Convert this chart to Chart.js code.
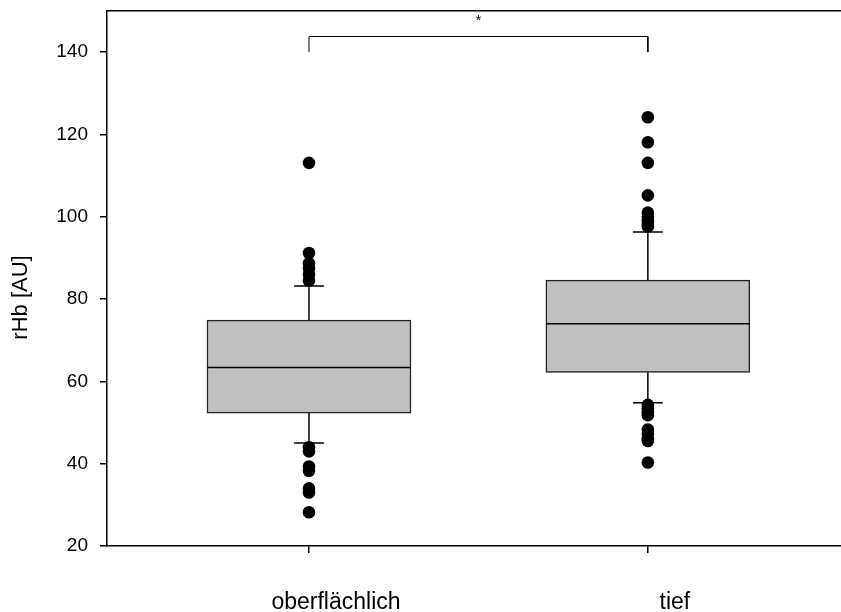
<!DOCTYPE html>
<html>
<head>
<meta charset="utf-8">
<script src="https://cdn.jsdelivr.net/npm/chart.js@4.4.1/dist/chart.umd.min.js"></script>
<style>
  html, body { margin: 0; padding: 0; background: #fff; overflow: hidden; width: 841px; height: 612px; }
  #c { display: block; }
</style>
</head>
<body>
<canvas id="c" width="848" height="612"></canvas>
<script>
// Box plot summary per group (rHb in AU)
const categories = ['oberflächlich', 'tief'];
const q1 = [52.3, 62.2];
const median = [63.4, 74.0];
const q3 = [74.9, 84.6];
const whiskerLow = [45.0, 54.8];
const whiskerHigh = [83.2, 96.3];
const outliersOberflaechlich = [113.1, 91.2, 88.7, 87.5, 86.0, 84.5, 44.0, 43.0, 39.3, 38.3, 34.0, 33.0, 28.2];
const outliersTief = [124.2, 118.1, 113.1, 105.2, 101.0, 100.0, 99.0, 98.0, 97.6, 54.3, 53.5, 52.5, 51.8, 48.3, 47.3, 46.0, 45.5, 40.3];
const yTicks = [20, 40, 60, 80, 100, 120, 140];
const yTitle = 'rHb [AU]';
// significance bracket between the two groups
const bracketBase = 140;
const bracketTop = 143.8;
const significanceLabel = '*';

const groupPos = categories.map((_, i) => i + 1);
const BOX_HALF = 0.30;    // half box width in x units
const CAP_HALF = 0.044;   // half whisker-cap width in x units
const X_MIN = 0.404, X_MAX = 2.572;

const gap = (x) => ({ x: x, y: null });

const boxData = groupPos.map((x, i) => ({ x: x, y: [q1[i], q3[i]] }));

const medianData = [];
const whiskerData = [];
const capData = [];
groupPos.forEach((x, i) => {
  medianData.push({ x: x - BOX_HALF, y: median[i] }, { x: x + BOX_HALF, y: median[i] }, gap(x));
  whiskerData.push({ x: x, y: q3[i] }, { x: x, y: whiskerHigh[i] }, gap(x));
  whiskerData.push({ x: x, y: q1[i] }, { x: x, y: whiskerLow[i] }, gap(x));
  capData.push({ x: x - CAP_HALF, y: whiskerHigh[i] }, { x: x + CAP_HALF, y: whiskerHigh[i] }, gap(x));
  capData.push({ x: x - CAP_HALF, y: whiskerLow[i] }, { x: x + CAP_HALF, y: whiskerLow[i] }, gap(x));
});

const outlierData = [
  ...outliersOberflaechlich.map(v => ({ x: groupPos[0], y: v })),
  ...outliersTief.map(v => ({ x: groupPos[1], y: v }))
];

const bracketData = [
  { x: groupPos[0], y: bracketBase }, { x: groupPos[0], y: bracketTop },
  { x: groupPos[1], y: bracketTop }, { x: groupPos[1], y: bracketBase }
];

const FONT = 'Liberation Sans, Arial, sans-serif';

const segLine = (data, width, order) => ({
  type: 'line', data: data, borderColor: '#000', borderWidth: width,
  pointRadius: 0, pointHoverRadius: 0, fill: false, spanGaps: false, tension: 0, order: order
});

// fixed axis sizes, no extra label overhang padding
const fixSize = (prop, size) => (s) => {
  s[prop] = size;
  s.paddingTop = 0; s.paddingBottom = 0; s.paddingLeft = 0; s.paddingRight = 0;
};

// significance marker above the bracket and the rotated y-axis title
const textPlugin = {
  id: 'extraText',
  afterDatasetsDraw(chart) {
    const { ctx, scales, chartArea } = chart;
    ctx.save();
    ctx.fillStyle = '#000';
    ctx.textAlign = 'center';
    ctx.textBaseline = 'middle';
    ctx.font = '15px ' + FONT;
    ctx.fillText(significanceLabel,
      scales.x.getPixelForValue((groupPos[0] + groupPos[1]) / 2),
      scales.y.getPixelForValue(147.6));
    ctx.translate(21, (chartArea.top + chartArea.bottom) / 2 + 19);
    ctx.rotate(-Math.PI / 2);
    ctx.font = '22px ' + FONT;
    ctx.fillText(yTitle, 0, 0);
    ctx.restore();
  }
};

new Chart(document.getElementById('c'), {
  type: 'bar',
  data: {
    datasets: [
      {
        type: 'bar', data: boxData, backgroundColor: '#c0c0c0', borderColor: '#222',
        borderWidth: 1.5, borderSkipped: false, barThickness: 204, order: 5
      },
      segLine(whiskerData, 1.5, 2),
      segLine(capData, 1.5, 2),
      segLine(medianData, 1.5, 1),
      segLine(bracketData, 1, 1),
      {
        type: 'scatter', data: outlierData, backgroundColor: '#000', borderColor: '#000',
        pointRadius: 6.3, pointHoverRadius: 6.3, borderWidth: 0, order: 0
      }
    ]
  },
  options: {
    responsive: false,
    animation: false,
    events: [],
    layout: { padding: 0 },
    plugins: { legend: { display: false }, tooltip: { enabled: false } },
    scales: {
      x: {
        type: 'linear', position: 'bottom', min: X_MIN, max: X_MAX, offset: false,
        afterBuildTicks(axis) { axis.ticks = groupPos.map(v => ({ value: v })); },
        afterFit: fixSize('height', 66),
        ticks: {
          callback: (v) => categories[v - 1],
          color: '#000', font: { family: FONT, size: 23 }, padding: 36, labelOffset: 27,
          maxRotation: 0, autoSkip: false
        },
        grid: { display: true, offset: false, drawOnChartArea: false, drawTicks: true, tickLength: 7, color: '#000', lineWidth: 1.5 },
        border: { display: true, color: '#000', width: 1.5 }
      },
      xTop: {
        type: 'linear', position: 'top', min: X_MIN, max: X_MAX, offset: false,
        afterFit: fixSize('height', 11),
        ticks: { display: false },
        grid: { display: false, offset: false },
        border: { display: true, color: '#000', width: 1.5 }
      },
      y: {
        type: 'linear', position: 'left', min: 20, max: 150,
        afterBuildTicks(axis) { axis.ticks = yTicks.map(v => ({ value: v })); },
        afterFit: fixSize('width', 107),
        ticks: { color: '#000', font: { family: FONT, size: 19 }, padding: 12 },
        grid: { display: true, drawOnChartArea: false, drawTicks: true, tickLength: 7, color: '#000', lineWidth: 1.5 },
        border: { display: true, color: '#000', width: 1.5 }
      }
    }
  },
  plugins: [textPlugin]
});
</script>
</body>
</html>
